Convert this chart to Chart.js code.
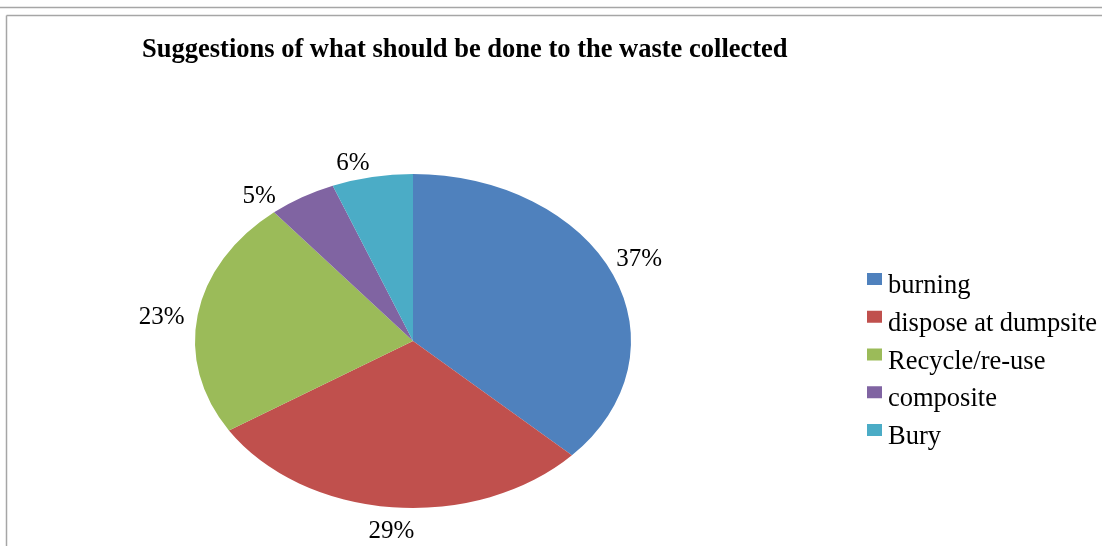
<!DOCTYPE html>
<html>
<head>
<meta charset="utf-8">
<script src="https://cdn.jsdelivr.net/npm/chart.js@4/dist/chart.umd.min.js"></script>
<style>
  body { margin: 0; background: #fff; }
  #wrap { position: relative; width: 1102px; height: 546px; }
</style>
</head>
<body>
<div id="wrap"><canvas id="pie" width="1102" height="546"></canvas></div>
<script>
// data
const categories = ['burning', 'dispose at dumpsite', 'Recycle/re-use', 'composite', 'Bury'];
const shares = [37, 29, 23, 5, 6];
const colours = ['#4F81BD', '#C0504D', '#9BBB59', '#8064A2', '#4BACC6'];
const chartTitle = 'Suggestions of what should be done to the waste collected';

const serif = '"Liberation Serif", "Times New Roman", serif';
const stretchX = 218 / 167; // the pie is drawn as an ellipse, wider than tall

// frame lines, title, labels and legend
const decor = {
    id: 'decor',
    beforeDraw(chart) {
        const ctx = chart.ctx;
        ctx.save();
        ctx.strokeStyle = '#a6a6a6';
        ctx.lineWidth = 1.5;
        ctx.beginPath();
        ctx.moveTo(0, 7.5); ctx.lineTo(1102, 7.5);
        ctx.moveTo(6.5, 15.5); ctx.lineTo(1102, 15.5);
        ctx.moveTo(6.5, 15.5); ctx.lineTo(6.5, 546);
        ctx.stroke();
        ctx.fillStyle = '#000';
        ctx.font = 'bold 26.5px ' + serif;
        ctx.textBaseline = 'alphabetic';
        ctx.fillText(chartTitle, 142, 57);
        ctx.restore();
    },
    beforeDatasetsDraw(chart) {
        const arc = chart.getDatasetMeta(0).data[0];
        const ctx = chart.ctx;
        ctx.save();
        ctx.translate(arc.x, arc.y);
        ctx.scale(stretchX, 1);
        ctx.translate(-arc.x, -arc.y);
    },
    afterDatasetsDraw(chart) {
        const ctx = chart.ctx;
        ctx.restore();

        // percentage labels outside each slice
        const visual = a => Math.atan2(Math.sin(a), Math.cos(a) * stretchX);
        ctx.save();
        ctx.font = '25px ' + serif;
        ctx.fillStyle = '#000';
        ctx.textAlign = 'center';
        ctx.textBaseline = 'middle';
        chart.getDatasetMeta(0).data.forEach((arc, i) => {
            let a0 = visual(arc.startAngle);
            let a1 = visual(arc.endAngle);
            if (a1 < a0) a1 += Math.PI * 2;
            const mid = (a0 + a1) / 2;
            const r = arc.outerRadius;
            const ex = arc.x + r * stretchX * Math.cos(mid);
            const ey = arc.y + r * Math.sin(mid);
            ctx.fillText(shares[i] + '%', ex + Math.cos(mid) * 36, ey + Math.sin(mid) * 20 + 4);
        });

        // legend
        ctx.font = '26.5px ' + serif;
        ctx.textAlign = 'left';
        ctx.textBaseline = 'alphabetic';
        categories.forEach((name, i) => {
            const y = 293 + i * 37.75;
            ctx.fillStyle = colours[i];
            ctx.fillRect(867, y - 20, 15, 12);
            ctx.fillStyle = '#000';
            ctx.fillText(name, 888, y);
        });
        ctx.restore();
    }
};

new Chart(document.getElementById('pie'), {
    type: 'pie',
    data: {
        labels: categories,
        datasets: [{
            data: shares,
            backgroundColor: colours,
            borderWidth: 0
        }]
    },
    options: {
        responsive: false,
        animation: false,
        layout: {
            padding: { left: 246, right: 522, top: 174, bottom: 38 }
        },
        plugins: {
            legend: { display: false },
            tooltip: { enabled: false }
        }
    },
    plugins: [decor]
});
</script>
</body>
</html>
